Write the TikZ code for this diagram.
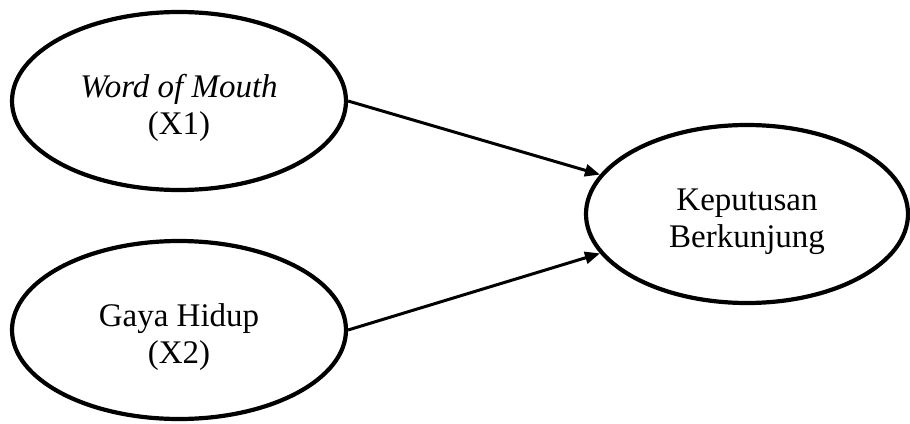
\documentclass[tikz,border=0pt]{standalone}
\usepackage{fontspec}
\setmainfont{Liberation Serif}
\usetikzlibrary{shapes.geometric,arrows.meta}
\newcommand{\topstrut}{\rule{0pt}{38pt}}
\begin{document}
\begin{tikzpicture}[x=1pt,y=-1pt,
  var/.style={draw=black,ellipse,line width=4.2pt,inner sep=0pt,
    minimum width=334pt,minimum height=178pt,align=center,
    font=\fontsize{33}{37}\selectfont},
  conn/.style={line width=3pt,-{Triangle[length=15pt,width=12pt]}}]
\useasboundingbox (0,0) rectangle (910,423);
\node[var] (e1) at (179,101) {\topstrut\textit{Word of Mouth}\\(X1)};
\node[var] (e2) at (179,330) {\topstrut Gaya Hidup\\(X2)};
\node[var,minimum width=322pt] (e3) at (747,214) {\topstrut Keputusan\\Berkunjung};
\draw[conn] (e1.east) -- (e3.165);
\draw[conn] (e2.east) -- (e3.195);
\end{tikzpicture}
\end{document}
